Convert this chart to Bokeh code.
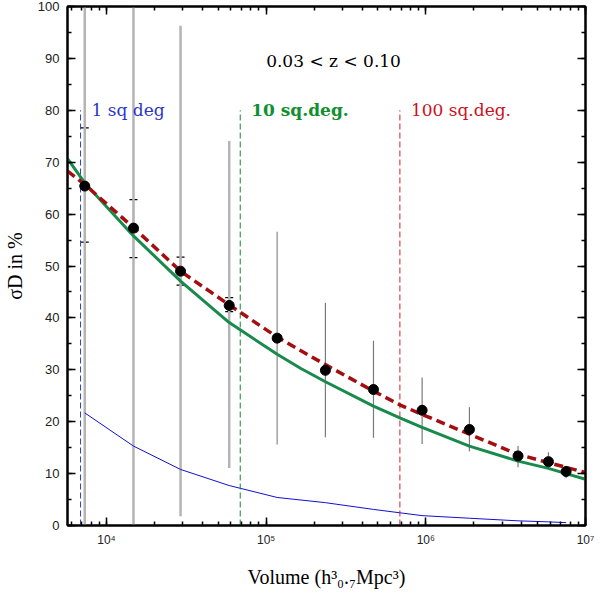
from bokeh.plotting import figure
from bokeh.models import (ColumnDataSource, Label, LinearAxis, LogAxis, LogTicker,
                          SingleIntervalTicker, Whisker, TeeHead, CustomJSTickFormatter)
from bokeh.embed import file_html
from bokeh.resources import INLINE

# measured cosmic variance points
volume = [7.31e3, 1.476e4, 2.91e4, 5.87e4, 1.172e5, 2.35e5, 4.70e5, 9.48e5, 1.875e6, 3.78e6, 5.86e6, 7.56e6]
sigma = [65.4, 57.3, 49.0, 42.4, 36.1, 29.9, 26.2, 22.2, 18.5, 13.4, 12.3, 10.4]
spread_lo = [0, 0, 1.8, 11.1, 15.6, 17.0, 16.9, 15.7, 14.3, 11.2, 11.5, 9.1]
spread_hi = [100, 100, 96.3, 74.1, 56.6, 42.9, 35.6, 28.5, 22.8, 15.3, 14.1, 11.5]
err_lo = [54.6, 51.6, 46.3, 41.2]
err_hi = [76.6, 62.8, 51.7, 43.9]
poisson = [21.7, 15.3, 10.8, 7.7, 5.4, 4.4, 3.1, 1.9, 1.4, 0.9, 0.7, 0.55]

# model curves
model_volume = [5.7e3, 7.31e3, 1.476e4, 2.91e4, 5.87e4, 1.172e5, 1.64e5, 2.35e5,
                4.70e5, 6.93e5, 9.48e5, 1.875e6, 3.78e6, 5.86e6, 7.56e6, 1.0e7]
model_fit = [70.7, 66.0, 55.8, 47.1, 39.1, 33.0, 30.3, 27.7,
             23.0, 20.7, 18.9, 15.3, 12.4, 11.0, 10.0, 8.9]
model_dashed = [68.3, 65.7, 57.4, 49.0, 42.5, 36.3, 33.7, 31.0,
                25.9, 23.2, 21.4, 17.6, 13.7, 12.1, 11.2, 10.2]

# survey areas
survey_volume = [6.88e3, 6.88e4, 6.88e5]
survey_labels = ["1 sq deg", "10 sq.deg.", "100 sq.deg."]
survey_top = 80

x_lo, x_hi = 5.7e3, 1.0e7

p = figure(width=600, height=593, x_axis_type="log", x_range=(x_lo, x_hi), y_range=(0, 100),
           output_backend="svg", toolbar_location=None,
           x_axis_label="Volume (h\u00b3\u2080.\u2087Mpc\u00b3)", y_axis_label="\u03c3D in %",
           min_border_left=67, min_border_right=15, min_border_top=6, min_border_bottom=68)
p.grid.visible = False
p.outline_line_color = "black"
p.outline_line_width = 2
p.background_fill_color = "white"


def style_axis(ax, labels=True):
    ax.axis_line_width = 2
    ax.axis_line_color = "black"
    ax.major_tick_in = 8
    ax.major_tick_out = 0
    ax.minor_tick_in = 4
    ax.minor_tick_out = 0
    ax.major_tick_line_width = 1.5
    ax.minor_tick_line_width = 1.5
    ax.major_tick_line_color = "black"
    ax.minor_tick_line_color = "black"
    if not labels:
        ax.major_label_text_font_size = "1px"
        ax.major_label_text_color = None
        ax.major_label_standoff = 0


sup = CustomJSTickFormatter(code="""
const s = {"0":"\u2070","1":"\u00b9","2":"\u00b2","3":"\u00b3","4":"\u2074","5":"\u2075","6":"\u2076","7":"\u2077","8":"\u2078","9":"\u2079"};
const e = Math.round(Math.log10(tick));
return "10" + String(e).split("").map(c => s[c]).join("");
""")

xa = p.xaxis[0]
xa.ticker = LogTicker(num_minor_ticks=10)
xa.formatter = sup
style_axis(xa)
xa.major_label_text_font = "Liberation Sans"
xa.major_label_text_font_size = "12px"
xa.major_label_text_color = "#222222"
xa.major_label_standoff = 7
xa.axis_label_text_font = "Liberation Serif"
xa.axis_label_text_font_size = "20px"
xa.axis_label_text_font_style = "normal"
xa.axis_label_text_color = "black"
xa.axis_label_standoff = 16

ya = p.yaxis[0]
ya.ticker = SingleIntervalTicker(interval=10, num_minor_ticks=2)
style_axis(ya)
ya.major_label_text_font = "Liberation Sans"
ya.major_label_text_font_size = "13px"
ya.major_label_text_color = "#222222"
ya.major_label_standoff = 8
ya.axis_label_text_font = "Liberation Serif"
ya.axis_label_text_font_size = "20px"
ya.axis_label_text_font_style = "normal"
ya.axis_label_text_color = "black"
ya.axis_label_standoff = 9

top = LogAxis(ticker=LogTicker(num_minor_ticks=10))
style_axis(top, labels=False)
p.add_layout(top, "above")
right = LinearAxis(ticker=SingleIntervalTicker(interval=10, num_minor_ticks=2))
style_axis(right, labels=False)
p.add_layout(right, "right")

# spread of the mocks
p.segment(x0=volume[:4], y0=spread_lo[:4], x1=volume[:4], y1=spread_hi[:4],
          line_color="#b4b4b4", line_width=2.5)
p.segment(x0=volume[4:5], y0=spread_lo[4:5], x1=volume[4:5], y1=spread_hi[4:5],
          line_color="#a0a0a0", line_width=1.5)
p.segment(x0=volume[5:], y0=spread_lo[5:], x1=volume[5:], y1=spread_hi[5:],
          line_color="#7a7a7a", line_width=1.2)

# poisson term
p.line(volume, poisson, line_color="#1010d0", line_width=1)

# survey area markers
survey_colors = ["#2a3fbf", "#118833", "#cc2233"]
p.segment(x0=survey_volume, y0=[0] * 3, x1=survey_volume, y1=[survey_top] * 3,
          line_color=survey_colors, line_width=1, line_dash="6 3")

p.line(model_volume, model_fit, line_color="#178a4c", line_width=3)
p.line(model_volume, model_dashed, line_color="#a50e0e", line_width=3.5, line_dash="9 5")

err_src = ColumnDataSource(dict(x=volume[:4], lo=err_lo, hi=err_hi))
p.add_layout(Whisker(source=err_src, base="x", lower="lo", upper="hi",
                     line_color="black", line_width=1.2,
                     upper_head=TeeHead(size=8, line_width=1.2, line_color="black"),
                     lower_head=TeeHead(size=8, line_width=1.2, line_color="black")))

p.scatter(volume, sigma, size=10, color="black")

label_colors = ["#2a35c8", "#109030", "#cc1020"]
label_styles = ["normal", "bold", "normal"]
for v, txt, c, st in zip(survey_volume, survey_labels, label_colors, label_styles):
    p.add_layout(Label(x=v, y=survey_top, x_offset=11, text=txt, text_color=c,
                       text_font="DejaVu Serif", text_font_size="17px",
                       text_font_style=st, text_baseline="alphabetic"))

p.add_layout(Label(x=1.0e5, y=89.5, text="0.03 < z < 0.10", text_color="black",
                   text_font="DejaVu Serif", text_font_size="17px",
                   text_baseline="alphabetic"))

open("out.html", "w").write(file_html(p, INLINE))
